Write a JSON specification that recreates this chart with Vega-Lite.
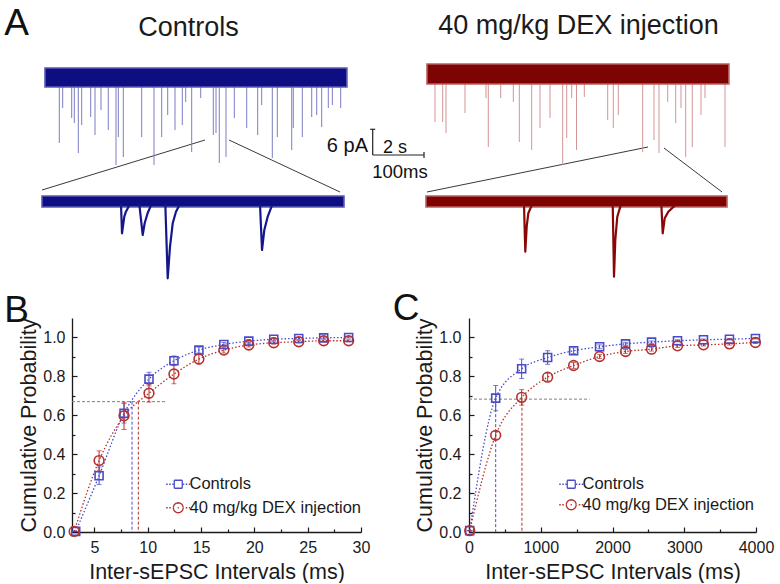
{
  "$schema": "https://vega.github.io/schema/vega-lite/v6.json",
  "padding": {"left": 4, "top": 0, "right": 0, "bottom": 0},
  "background": "white",
  "bounds": "flush",
  "spacing": 0,
  "resolve": {
    "scale": {"color": "independent", "fill": "independent", "stroke": "independent", "shape": "independent", "size": "independent"},
    "legend": {"color": "independent", "fill": "independent", "stroke": "independent", "shape": "independent", "size": "independent"}
  },
  "config": {
    "font": "Liberation Sans",
    "view": {"stroke": null},
    "axis": {
      "grid": false,
      "domainColor": "#1a1a1a", "domainWidth": 1.3,
      "tickColor": "#1a1a1a", "tickWidth": 1.2,
      "labelColor": "#1a1a1a", "titleColor": "#1a1a1a",
      "labelFont": "Liberation Sans", "titleFont": "Liberation Sans",
      "labelFontSize": 16, "titleFontSize": 21.5, "titleFontWeight": "normal",
      "labelFlush": false, "labelOverlap": false
    }
  },
  "datasets": {
    "bands": [
      {"group": "Controls", "t0": 0, "t1": 11.84, "hi": 2.16, "lo": -2.4},
      {"group": "Controls", "t0": -0.118, "t1": 11.725, "hi": -28.56, "lo": -31.2},
      {"group": "DEX", "t0": 14.98, "t1": 26.82, "hi": 3.12, "lo": -1.68},
      {"group": "DEX", "t0": 14.941, "t1": 26.745, "hi": -28.56, "lo": -31.2}
    ],
    "spikes": [
      {"group": "Controls", "t": 0.561, "depth": -15.84},
      {"group": "Controls", "t": 0.694, "depth": -7.44},
      {"group": "Controls", "t": 1.047, "depth": -9.84},
      {"group": "Controls", "t": 1.149, "depth": -11.04},
      {"group": "Controls", "t": 1.306, "depth": -18.24},
      {"group": "Controls", "t": 1.439, "depth": -11.52},
      {"group": "Controls", "t": 1.792, "depth": -9.6},
      {"group": "Controls", "t": 1.961, "depth": -13.92},
      {"group": "Controls", "t": 2.196, "depth": -7.92},
      {"group": "Controls", "t": 2.482, "depth": -12.72},
      {"group": "Controls", "t": 2.784, "depth": -21.12},
      {"group": "Controls", "t": 2.875, "depth": -14.4},
      {"group": "Controls", "t": 3.071, "depth": -19.2},
      {"group": "Controls", "t": 3.792, "depth": -14.4},
      {"group": "Controls", "t": 4.275, "depth": -21.12},
      {"group": "Controls", "t": 4.576, "depth": -14.4},
      {"group": "Controls", "t": 4.812, "depth": -9.12},
      {"group": "Controls", "t": 5.098, "depth": -12.72},
      {"group": "Controls", "t": 5.384, "depth": -11.52},
      {"group": "Controls", "t": 5.518, "depth": -6.0},
      {"group": "Controls", "t": 5.753, "depth": -18.0},
      {"group": "Controls", "t": 6.106, "depth": -5.04},
      {"group": "Controls", "t": 6.6, "depth": -13.92},
      {"group": "Controls", "t": 6.706, "depth": -13.44},
      {"group": "Controls", "t": 6.835, "depth": -20.64},
      {"group": "Controls", "t": 7.098, "depth": -19.2},
      {"group": "Controls", "t": 7.424, "depth": -9.84},
      {"group": "Controls", "t": 7.91, "depth": -12.24},
      {"group": "Controls", "t": 8.341, "depth": -13.92},
      {"group": "Controls", "t": 8.498, "depth": -6.72},
      {"group": "Controls", "t": 8.914, "depth": -19.44},
      {"group": "Controls", "t": 9.11, "depth": -14.4},
      {"group": "Controls", "t": 9.675, "depth": -17.52},
      {"group": "Controls", "t": 9.737, "depth": -12.24},
      {"group": "Controls", "t": 10.09, "depth": -14.4},
      {"group": "Controls", "t": 10.459, "depth": -9.6},
      {"group": "Controls", "t": 10.655, "depth": -9.12},
      {"group": "Controls", "t": 10.851, "depth": -12.0},
      {"group": "Controls", "t": 11.11, "depth": -7.44},
      {"group": "Controls", "t": 11.267, "depth": -6.72},
      {"group": "Controls", "t": 11.596, "depth": -7.44},
      {"group": "DEX", "t": 15.294, "depth": -10.8},
      {"group": "DEX", "t": 15.596, "depth": -10.8},
      {"group": "DEX", "t": 15.725, "depth": -13.44},
      {"group": "DEX", "t": 16.471, "depth": -8.64},
      {"group": "DEX", "t": 17.294, "depth": -5.04},
      {"group": "DEX", "t": 17.384, "depth": -16.8},
      {"group": "DEX", "t": 17.871, "depth": -5.04},
      {"group": "DEX", "t": 18.365, "depth": -6.0},
      {"group": "DEX", "t": 18.6, "depth": -15.6},
      {"group": "DEX", "t": 19.086, "depth": -17.52},
      {"group": "DEX", "t": 19.412, "depth": -12.24},
      {"group": "DEX", "t": 19.804, "depth": -9.84},
      {"group": "DEX", "t": 20.302, "depth": -21.12},
      {"group": "DEX", "t": 20.459, "depth": -14.64},
      {"group": "DEX", "t": 20.655, "depth": -5.04},
      {"group": "DEX", "t": 20.843, "depth": -17.52},
      {"group": "DEX", "t": 21.149, "depth": -4.8},
      {"group": "DEX", "t": 22.067, "depth": -10.32},
      {"group": "DEX", "t": 22.286, "depth": -12.24},
      {"group": "DEX", "t": 22.482, "depth": -9.12},
      {"group": "DEX", "t": 23.439, "depth": -18.0},
      {"group": "DEX", "t": 23.882, "depth": -15.12},
      {"group": "DEX", "t": 24.078, "depth": -18.24},
      {"group": "DEX", "t": 24.42, "depth": -6.0},
      {"group": "DEX", "t": 24.733, "depth": -11.04},
      {"group": "DEX", "t": 24.941, "depth": -7.44},
      {"group": "DEX", "t": 25.125, "depth": -19.2},
      {"group": "DEX", "t": 25.384, "depth": -16.8},
      {"group": "DEX", "t": 25.725, "depth": -9.12},
      {"group": "DEX", "t": 25.882, "depth": -5.04},
      {"group": "DEX", "t": 26.667, "depth": -16.8}
    ],
    "events": [
      {"group": "Controls", "ev": "c1", "t": 2.98, "pA": -30.5},
      {"group": "Controls", "ev": "c1", "t": 3.02, "pA": -37.51},
      {"group": "Controls", "ev": "c1", "t": 3.11, "pA": -33.53},
      {"group": "Controls", "ev": "c1", "t": 3.173, "pA": -32.33},
      {"group": "Controls", "ev": "c1", "t": 3.306, "pA": -30.8},
      {"group": "Controls", "ev": "c2", "t": 3.698, "pA": -30.5},
      {"group": "Controls", "ev": "c2", "t": 3.831, "pA": -37.92},
      {"group": "Controls", "ev": "c2", "t": 3.91, "pA": -35.04},
      {"group": "Controls", "ev": "c2", "t": 4.027, "pA": -32.64},
      {"group": "Controls", "ev": "c2", "t": 4.157, "pA": -30.8},
      {"group": "Controls", "ev": "c3", "t": 4.718, "pA": -30.5},
      {"group": "Controls", "ev": "c3", "t": 4.812, "pA": -48.31},
      {"group": "Controls", "ev": "c3", "t": 4.902, "pA": -40.73},
      {"group": "Controls", "ev": "c3", "t": 5.008, "pA": -35.11},
      {"group": "Controls", "ev": "c3", "t": 5.137, "pA": -32.33},
      {"group": "Controls", "ev": "c3", "t": 5.267, "pA": -30.8},
      {"group": "Controls", "ev": "c4", "t": 8.431, "pA": -30.5},
      {"group": "Controls", "ev": "c4", "t": 8.51, "pA": -41.52},
      {"group": "Controls", "ev": "c4", "t": 8.6, "pA": -36.72},
      {"group": "Controls", "ev": "c4", "t": 8.733, "pA": -33.53},
      {"group": "Controls", "ev": "c4", "t": 8.902, "pA": -30.8},
      {"group": "DEX", "ev": "d1", "t": 18.784, "pA": -30.5},
      {"group": "DEX", "ev": "d1", "t": 18.835, "pA": -41.93},
      {"group": "DEX", "ev": "d1", "t": 18.89, "pA": -35.93},
      {"group": "DEX", "ev": "d1", "t": 18.953, "pA": -32.71},
      {"group": "DEX", "ev": "d1", "t": 19.086, "pA": -30.8},
      {"group": "DEX", "ev": "d2", "t": 22.263, "pA": -30.5},
      {"group": "DEX", "ev": "d2", "t": 22.314, "pA": -47.93},
      {"group": "DEX", "ev": "d2", "t": 22.365, "pA": -39.12},
      {"group": "DEX", "ev": "d2", "t": 22.443, "pA": -33.53},
      {"group": "DEX", "ev": "d2", "t": 22.576, "pA": -30.8},
      {"group": "DEX", "ev": "d3", "t": 24.169, "pA": -30.5},
      {"group": "DEX", "ev": "d3", "t": 24.224, "pA": -37.51},
      {"group": "DEX", "ev": "d3", "t": 24.302, "pA": -33.91},
      {"group": "DEX", "ev": "d3", "t": 24.443, "pA": -32.33},
      {"group": "DEX", "ev": "d3", "t": 24.706, "pA": -30.8}
    ],
    "connectors": [
      {"t0": 6.275, "y0": -15.12, "t1": -0.118, "y1": -27.12},
      {"t0": 7.216, "y0": -15.12, "t1": 11.569, "y1": -27.6},
      {"t0": 23.647, "y0": -16.8, "t1": 14.98, "y1": -27.6},
      {"t0": 24.275, "y0": -17.04, "t1": 26.549, "y1": -27.6}
    ],
    "scalebar": [
      {"t0": 12.851, "t1": 12.851, "y0": -12.55, "y1": -18.72},
      {"t0": 12.851, "t1": 14.863, "y0": -18.72, "y1": -18.72},
      {"t0": 12.75, "t1": 12.95, "y0": -12.55, "y1": -12.55},
      {"t0": 14.863, "t1": 14.863, "y0": -18.0, "y1": -19.44}
    ],
    "letters": [
      {"label": "A", "t": -1.6, "pA": 10.1},
      {"label": "B", "t": -1.6, "pA": -58.8},
      {"label": "C", "t": 13.64, "pA": -58.32}
    ],
    "titles": [
      {"label": "Controls", "t": 5.627, "pA": 9.84},
      {"label": "40 mg/kg DEX injection", "t": 20.922, "pA": 10.44}
    ],
    "sbAmp": [{"label": "6 pA", "t": 12.667, "pA": -17.93}],
    "sbTime": [{"label": "2 s", "t": 13.255, "pA": -18.3}],
    "sbZoom": [{"label": "100ms", "t": 13.922, "pA": -24.3}],
    "cumB": [
      {"group": "Controls", "interval": 3.25, "prob": 0.003, "err": 0},
      {"group": "Controls", "interval": 5.44, "prob": 0.289, "err": 0.045},
      {"group": "Controls", "interval": 7.78, "prob": 0.61, "err": 0.05},
      {"group": "Controls", "interval": 10.12, "prob": 0.786, "err": 0.035},
      {"group": "Controls", "interval": 12.46, "prob": 0.88, "err": 0.025},
      {"group": "Controls", "interval": 14.8, "prob": 0.935, "err": 0.015},
      {"group": "Controls", "interval": 17.14, "prob": 0.964, "err": 0.01},
      {"group": "Controls", "interval": 19.48, "prob": 0.981, "err": 0.008},
      {"group": "Controls", "interval": 21.82, "prob": 0.991, "err": 0.006},
      {"group": "Controls", "interval": 24.16, "prob": 0.995, "err": 0.005},
      {"group": "Controls", "interval": 26.5, "prob": 0.998, "err": 0.004},
      {"group": "Controls", "interval": 28.84, "prob": 1.0, "err": 0.003},
      {"group": "40 mg/kg DEX injection", "interval": 3.1, "prob": 0.003, "err": 0},
      {"group": "40 mg/kg DEX injection", "interval": 5.44, "prob": 0.367, "err": 0.05},
      {"group": "40 mg/kg DEX injection", "interval": 7.78, "prob": 0.597, "err": 0.07},
      {"group": "40 mg/kg DEX injection", "interval": 10.12, "prob": 0.713, "err": 0.045},
      {"group": "40 mg/kg DEX injection", "interval": 12.46, "prob": 0.812, "err": 0.05},
      {"group": "40 mg/kg DEX injection", "interval": 14.8, "prob": 0.889, "err": 0.025},
      {"group": "40 mg/kg DEX injection", "interval": 17.14, "prob": 0.935, "err": 0.015},
      {"group": "40 mg/kg DEX injection", "interval": 19.48, "prob": 0.961, "err": 0.01},
      {"group": "40 mg/kg DEX injection", "interval": 21.82, "prob": 0.973, "err": 0.008},
      {"group": "40 mg/kg DEX injection", "interval": 24.16, "prob": 0.978, "err": 0.006},
      {"group": "40 mg/kg DEX injection", "interval": 26.5, "prob": 0.983, "err": 0.005},
      {"group": "40 mg/kg DEX injection", "interval": 28.84, "prob": 0.983, "err": 0.005}
    ],
    "refBh": [{"interval": 2.9, "interval_end": 11.8, "prob": 0.67}],
    "refBv": [
      {"group": "Controls", "interval": 8.53, "prob": 0.67},
      {"group": "40 mg/kg DEX injection", "interval": 9.12, "prob": 0.67}
    ],
    "cumC": [
      {"group": "Controls", "interval": 10, "prob": 0.007, "err": 0},
      {"group": "Controls", "interval": 372, "prob": 0.688, "err": 0.065},
      {"group": "Controls", "interval": 734, "prob": 0.839, "err": 0.05},
      {"group": "Controls", "interval": 1096, "prob": 0.897, "err": 0.035},
      {"group": "Controls", "interval": 1458, "prob": 0.932, "err": 0.015},
      {"group": "Controls", "interval": 1820, "prob": 0.952, "err": 0.01},
      {"group": "Controls", "interval": 2182, "prob": 0.967, "err": 0.008},
      {"group": "Controls", "interval": 2544, "prob": 0.976, "err": 0.006},
      {"group": "Controls", "interval": 2906, "prob": 0.983, "err": 0.005},
      {"group": "Controls", "interval": 3268, "prob": 0.988, "err": 0.004},
      {"group": "Controls", "interval": 3630, "prob": 0.991, "err": 0.004},
      {"group": "Controls", "interval": 3992, "prob": 0.995, "err": 0.003},
      {"group": "40 mg/kg DEX injection", "interval": 10, "prob": 0.007, "err": 0},
      {"group": "40 mg/kg DEX injection", "interval": 372, "prob": 0.497, "err": 0.02},
      {"group": "40 mg/kg DEX injection", "interval": 734, "prob": 0.692, "err": 0.04},
      {"group": "40 mg/kg DEX injection", "interval": 1096, "prob": 0.796, "err": 0.02},
      {"group": "40 mg/kg DEX injection", "interval": 1458, "prob": 0.856, "err": 0.015},
      {"group": "40 mg/kg DEX injection", "interval": 1820, "prob": 0.902, "err": 0.01},
      {"group": "40 mg/kg DEX injection", "interval": 2182, "prob": 0.928, "err": 0.01},
      {"group": "40 mg/kg DEX injection", "interval": 2544, "prob": 0.94, "err": 0.01},
      {"group": "40 mg/kg DEX injection", "interval": 2906, "prob": 0.957, "err": 0.008},
      {"group": "40 mg/kg DEX injection", "interval": 3268, "prob": 0.962, "err": 0.006},
      {"group": "40 mg/kg DEX injection", "interval": 3630, "prob": 0.967, "err": 0.006},
      {"group": "40 mg/kg DEX injection", "interval": 3992, "prob": 0.974, "err": 0.005}
    ],
    "refCh": [{"interval": 0, "interval_end": 1680, "prob": 0.683}],
    "refCv": [
      {"group": "Controls", "interval": 372, "prob": 0.683},
      {"group": "40 mg/kg DEX injection", "interval": 738, "prob": 0.69}
    ]
  },
  "vconcat": [
    {
      "width": 708,
      "height": 318,
      "resolve": {"scale": {"color": "independent", "fill": "independent", "stroke": "independent"}},
      "layer": [
        {
          "data": {"name": "connectors"},
          "mark": {"type": "rule", "color": "#3a3a3a", "strokeWidth": 1},
          "encoding": {
            "x": {"field": "t0", "type": "quantitative", "scale": {"domain": [1.0588, 28.8235], "nice": false, "zero": false}, "axis": null},
            "x2": {"field": "t1"},
            "y": {"field": "y0", "type": "quantitative", "scale": {"domain": [-57.84, 18.48], "nice": false, "zero": false}, "axis": null},
            "y2": {"field": "y1"}
          }
        },
        {
          "data": {"name": "spikes"},
          "mark": {"type": "rule", "strokeWidth": 1},
          "encoding": {
            "x": {"field": "t", "type": "quantitative", "scale": {"domain": [1.0588, 28.8235], "nice": false, "zero": false}, "axis": null},
            "y": {"field": "depth", "type": "quantitative", "scale": {"domain": [-57.84, 18.48], "nice": false, "zero": false}, "axis": null},
            "y2": {"datum": 0},
            "stroke": {"field": "group", "type": "nominal", "scale": {"domain": ["Controls", "DEX"], "range": ["#7c7cc4", "#d39494"]}, "legend": null}
          }
        },
        {
          "data": {"name": "bands"},
          "mark": {"type": "rect", "strokeWidth": 1.6},
          "encoding": {
            "x": {"field": "t0", "type": "quantitative", "scale": {"domain": [1.0588, 28.8235], "nice": false, "zero": false}, "axis": null},
            "x2": {"field": "t1"},
            "y": {"field": "hi", "type": "quantitative", "scale": {"domain": [-57.84, 18.48], "nice": false, "zero": false}, "axis": null},
            "y2": {"field": "lo"},
            "fill": {"field": "group", "type": "nominal", "scale": {"domain": ["Controls", "DEX"], "range": ["#0e0e82", "#7e0303"]}, "legend": null},
            "stroke": {"field": "group", "type": "nominal", "scale": {"domain": ["Controls", "DEX"], "range": ["#5a5ab4", "#b86060"]}, "legend": null}
          }
        },
        {
          "data": {"name": "events"},
          "mark": {"type": "line", "strokeWidth": 2.2, "strokeJoin": "round"},
          "encoding": {
            "x": {"field": "t", "type": "quantitative", "scale": {"domain": [1.0588, 28.8235], "nice": false, "zero": false}, "axis": null},
            "y": {"field": "pA", "type": "quantitative", "scale": {"domain": [-57.84, 18.48], "nice": false, "zero": false}, "axis": null},
            "detail": {"field": "ev"},
            "order": {"field": "t", "type": "quantitative"},
            "color": {"field": "group", "type": "nominal", "scale": {"domain": ["Controls", "DEX"], "range": ["#16168c", "#880808"]}, "legend": null}
          }
        },
        {
          "data": {"name": "scalebar"},
          "mark": {"type": "rule", "color": "#222222", "strokeWidth": 1.2},
          "encoding": {
            "x": {"field": "t0", "type": "quantitative", "scale": {"domain": [1.0588, 28.8235], "nice": false, "zero": false}, "axis": null},
            "x2": {"field": "t1"},
            "y": {"field": "y0", "type": "quantitative", "scale": {"domain": [-57.84, 18.48], "nice": false, "zero": false}, "axis": null},
            "y2": {"field": "y1"}
          }
        },
        {
          "data": {"name": "letters"},
          "mark": {"type": "text", "fontSize": 37, "align": "left", "baseline": "alphabetic", "color": "#111111"},
          "encoding": {
            "x": {"field": "t", "type": "quantitative", "scale": {"domain": [1.0588, 28.8235], "nice": false, "zero": false}, "axis": null},
            "y": {"field": "pA", "type": "quantitative", "scale": {"domain": [-57.84, 18.48], "nice": false, "zero": false}, "axis": null},
            "text": {"field": "label"}
          }
        },
        {
          "data": {"name": "titles"},
          "mark": {"type": "text", "fontSize": 27, "align": "center", "baseline": "alphabetic", "color": "#1a1a1a"},
          "encoding": {
            "x": {"field": "t", "type": "quantitative", "scale": {"domain": [1.0588, 28.8235], "nice": false, "zero": false}, "axis": null},
            "y": {"field": "pA", "type": "quantitative", "scale": {"domain": [-57.84, 18.48], "nice": false, "zero": false}, "axis": null},
            "text": {"field": "label"}
          }
        },
        {
          "data": {"name": "sbAmp"},
          "mark": {"type": "text", "fontSize": 20, "align": "right", "baseline": "alphabetic", "color": "#111111"},
          "encoding": {
            "x": {"field": "t", "type": "quantitative", "scale": {"domain": [1.0588, 28.8235], "nice": false, "zero": false}, "axis": null},
            "y": {"field": "pA", "type": "quantitative", "scale": {"domain": [-57.84, 18.48], "nice": false, "zero": false}, "axis": null},
            "text": {"field": "label"}
          }
        },
        {
          "data": {"name": "sbTime"},
          "mark": {"type": "text", "fontSize": 18, "align": "left", "baseline": "alphabetic", "color": "#111111"},
          "encoding": {
            "x": {"field": "t", "type": "quantitative", "scale": {"domain": [1.0588, 28.8235], "nice": false, "zero": false}, "axis": null},
            "y": {"field": "pA", "type": "quantitative", "scale": {"domain": [-57.84, 18.48], "nice": false, "zero": false}, "axis": null},
            "text": {"field": "label"}
          }
        },
        {
          "data": {"name": "sbZoom"},
          "mark": {"type": "text", "fontSize": 18.5, "align": "center", "baseline": "alphabetic", "color": "#111111"},
          "encoding": {
            "x": {"field": "t", "type": "quantitative", "scale": {"domain": [1.0588, 28.8235], "nice": false, "zero": false}, "axis": null},
            "y": {"field": "pA", "type": "quantitative", "scale": {"domain": [-57.84, 18.48], "nice": false, "zero": false}, "axis": null},
            "text": {"field": "label"}
          }
        }
      ]
    },
    {
      "bounds": "flush",
      "spacing": 108,
      "resolve": {
        "scale": {"color": "independent", "stroke": "independent", "shape": "independent"},
        "legend": {"color": "independent", "stroke": "independent", "shape": "independent"}
      },
      "hconcat": [
        {
          "width": 289,
          "height": 214,
          "encoding": {
            "x": {
              "field": "interval", "type": "quantitative",
              "scale": {"domain": [2.9, 30], "nice": false, "zero": false},
              "axis": {
                "title": "Inter-sEPSC Intervals (ms)",
                "values": [5, 7.5, 10, 12.5, 15, 17.5, 20, 22.5, 25, 27.5, 30],
                "labelExpr": "datum.value % 5 === 0 ? datum.label : ''",
                "tickSize": {"condition": {"test": "datum.value % 5 === 0", "value": -5}, "value": -3},
                "labelPadding": 12, "titlePadding": 4
              }
            },
            "y": {
              "field": "prob", "type": "quantitative",
              "scale": {"domain": [0, 1.1], "nice": false},
              "axis": {
                "title": "Cumulative Probability",
                "values": [0, 0.1, 0.2, 0.3, 0.4, 0.5, 0.6, 0.7, 0.8, 0.9, 1.0],
                "labelExpr": "abs(datum.value * 5 - round(datum.value * 5)) < 0.001 ? format(datum.value, '.1f') : ''",
                "tickSize": {"condition": {"test": "abs(datum.value * 5 - round(datum.value * 5)) < 0.001", "value": -5}, "value": -3},
                "labelPadding": 12, "titlePadding": 2
              }
            }
          },
          "layer": [
            {
              "data": {"name": "cumB"},
              "transform": [{"filter": "false"}],
              "mark": {"type": "point", "filled": false, "strokeWidth": 1.3},
              "encoding": {
                "shape": {"field": "group", "type": "nominal",
                  "scale": {"domain": ["Controls", "40 mg/kg DEX injection"], "range": ["M-2.4,0H-2.1M-1.8,0H-1.5M-1.2,0H-0.95M0.95,0H1.2M1.5,0H1.8M2.1,0H2.4M-0.8,-0.8H0.8M0.8,-0.8V0.8M0.8,0.8H-0.8M-0.8,0.8V-0.8", "M-2.4,0H-2.1M-1.8,0H-1.5M1.5,0H1.8M2.1,0H2.4M-0.12,0H0.12M1,0L0.924,0.383M0.924,0.383L0.707,0.707M0.707,0.707L0.383,0.924M0.383,0.924L0,1M0,1L-0.383,0.924M-0.383,0.924L-0.707,0.707M-0.707,0.707L-0.924,0.383M-0.924,0.383L-1,0M-1,0L-0.924,-0.383M-0.924,-0.383L-0.707,-0.707M-0.707,-0.707L-0.383,-0.924M-0.383,-0.924L0,-1M0,-1L0.383,-0.924M0.383,-0.924L0.707,-0.707M0.707,-0.707L0.924,-0.383M0.924,-0.383L1,0"]},
                  "legend": {"orient": "none", "legendX": 98, "legendY": 158, "title": null, "padding": 0, "labelFontSize": 16.5, "labelLimit": 400, "labelColor": "#1a1a1a", "symbolSize": 100, "symbolStrokeWidth": 1.3, "labelOffset": 3, "rowPadding": 6.5, "symbolFillColor": "transparent", "symbolOpacity": 1}},
                "stroke": {"field": "group", "type": "nominal", "scale": {"domain": ["Controls", "40 mg/kg DEX injection"], "range": ["#4b4bc8", "#b3302c"]},
                  "legend": {"orient": "none", "legendX": 98, "legendY": 158, "title": null, "padding": 0, "labelFontSize": 16.5, "labelLimit": 400, "labelColor": "#1a1a1a", "symbolSize": 100, "symbolStrokeWidth": 1.3, "labelOffset": 3, "rowPadding": 6.5, "symbolFillColor": "transparent", "symbolOpacity": 1}}
              }
            },
            {
              "data": {"name": "refBh"},
              "mark": {"type": "rule", "color": "#808080", "strokeWidth": 1, "strokeDash": [3, 2]},
              "encoding": {"x2": {"field": "interval_end"}}
            },
            {
              "data": {"name": "refBv"},
              "mark": {"type": "rule", "strokeWidth": 1, "strokeDash": [3, 2]},
              "encoding": {
                "y2": {"datum": 0},
                "color": {"field": "group", "type": "nominal", "scale": {"domain": ["Controls", "40 mg/kg DEX injection"], "range": ["#4b4bc8", "#b3302c"]}, "legend": null}
              }
            },
            {
              "data": {"name": "cumB"},
              "mark": {"type": "errorbar", "ticks": true, "thickness": 1},
              "encoding": {
                "yError": {"field": "err"},
                "color": {"field": "group", "type": "nominal", "legend": null}
              }
            },
            {
              "data": {"name": "cumB"},
              "mark": {"type": "line", "interpolate": "monotone", "strokeWidth": 1.3, "strokeDash": [1.5, 2]},
              "encoding": {"color": {"field": "group", "type": "nominal", "legend": null}}
            },
            {
              "data": {"name": "cumB"},
              "transform": [{"filter": "datum.group === 'Controls'"}],
              "mark": {"type": "point", "shape": "square", "size": 64, "filled": false, "strokeWidth": 1.6, "opacity": 1},
              "encoding": {"stroke": {"field": "group", "type": "nominal"}}
            },
            {
              "data": {"name": "cumB"},
              "transform": [{"filter": "datum.group !== 'Controls'"}],
              "mark": {"type": "point", "shape": "circle", "size": 95, "filled": false, "strokeWidth": 1.6, "opacity": 1},
              "encoding": {"stroke": {"field": "group", "type": "nominal"}}
            }
          ]
        },
        {
          "width": 287,
          "height": 214,
          "encoding": {
            "x": {
              "field": "interval", "type": "quantitative",
              "scale": {"domain": [0, 4000], "nice": false, "zero": false},
              "axis": {
                "title": "Inter-sEPSC Intervals (ms)",
                "values": [0, 500, 1000, 1500, 2000, 2500, 3000, 3500, 4000],
                "format": "d",
                "labelExpr": "datum.value % 1000 === 0 ? datum.label : ''",
                "tickSize": {"condition": {"test": "datum.value % 1000 === 0", "value": -5}, "value": -3},
                "labelPadding": 12, "titlePadding": 4
              }
            },
            "y": {
              "field": "prob", "type": "quantitative",
              "scale": {"domain": [0, 1.1], "nice": false},
              "axis": {
                "title": "Cumulative Probability",
                "values": [0, 0.1, 0.2, 0.3, 0.4, 0.5, 0.6, 0.7, 0.8, 0.9, 1.0],
                "labelExpr": "abs(datum.value * 5 - round(datum.value * 5)) < 0.001 ? format(datum.value, '.1f') : ''",
                "tickSize": {"condition": {"test": "abs(datum.value * 5 - round(datum.value * 5)) < 0.001", "value": -5}, "value": -3},
                "labelPadding": 13, "titlePadding": 2
              }
            }
          },
          "layer": [
            {
              "data": {"name": "cumC"},
              "transform": [{"filter": "false"}],
              "mark": {"type": "point", "filled": false, "strokeWidth": 1.3},
              "encoding": {
                "shape": {"field": "group", "type": "nominal",
                  "scale": {"domain": ["Controls", "40 mg/kg DEX injection"], "range": ["M-2.4,0H-2.1M-1.8,0H-1.5M-1.2,0H-0.95M0.95,0H1.2M1.5,0H1.8M2.1,0H2.4M-0.8,-0.8H0.8M0.8,-0.8V0.8M0.8,0.8H-0.8M-0.8,0.8V-0.8", "M-2.4,0H-2.1M-1.8,0H-1.5M1.5,0H1.8M2.1,0H2.4M-0.12,0H0.12M1,0L0.924,0.383M0.924,0.383L0.707,0.707M0.707,0.707L0.383,0.924M0.383,0.924L0,1M0,1L-0.383,0.924M-0.383,0.924L-0.707,0.707M-0.707,0.707L-0.924,0.383M-0.924,0.383L-1,0M-1,0L-0.924,-0.383M-0.924,-0.383L-0.707,-0.707M-0.707,-0.707L-0.383,-0.924M-0.383,-0.924L0,-1M0,-1L0.383,-0.924M0.383,-0.924L0.707,-0.707M0.707,-0.707L0.924,-0.383M0.924,-0.383L1,0"]},
                  "legend": {"orient": "none", "legendX": 94, "legendY": 158, "title": null, "padding": 0, "labelFontSize": 16.5, "labelLimit": 400, "labelColor": "#1a1a1a", "symbolSize": 100, "symbolStrokeWidth": 1.3, "labelOffset": 3, "rowPadding": 3.5, "symbolFillColor": "transparent", "symbolOpacity": 1}},
                "stroke": {"field": "group", "type": "nominal", "scale": {"domain": ["Controls", "40 mg/kg DEX injection"], "range": ["#4b4bc8", "#b3302c"]},
                  "legend": {"orient": "none", "legendX": 94, "legendY": 158, "title": null, "padding": 0, "labelFontSize": 16.5, "labelLimit": 400, "labelColor": "#1a1a1a", "symbolSize": 100, "symbolStrokeWidth": 1.3, "labelOffset": 3, "rowPadding": 3.5, "symbolFillColor": "transparent", "symbolOpacity": 1}}
              }
            },
            {
              "data": {"name": "refCh"},
              "mark": {"type": "rule", "color": "#808080", "strokeWidth": 1, "strokeDash": [3, 2]},
              "encoding": {"x2": {"field": "interval_end"}}
            },
            {
              "data": {"name": "refCv"},
              "mark": {"type": "rule", "strokeWidth": 1, "strokeDash": [3, 2]},
              "encoding": {
                "y2": {"datum": 0},
                "color": {"field": "group", "type": "nominal", "scale": {"domain": ["Controls", "40 mg/kg DEX injection"], "range": ["#4b4bc8", "#b3302c"]}, "legend": null}
              }
            },
            {
              "data": {"name": "cumC"},
              "mark": {"type": "errorbar", "ticks": true, "thickness": 1},
              "encoding": {
                "yError": {"field": "err"},
                "color": {"field": "group", "type": "nominal", "legend": null}
              }
            },
            {
              "data": {"name": "cumC"},
              "mark": {"type": "line", "interpolate": "monotone", "strokeWidth": 1.3, "strokeDash": [1.5, 2]},
              "encoding": {"color": {"field": "group", "type": "nominal", "legend": null}}
            },
            {
              "data": {"name": "cumC"},
              "transform": [{"filter": "datum.group === 'Controls'"}],
              "mark": {"type": "point", "shape": "square", "size": 64, "filled": false, "strokeWidth": 1.6, "opacity": 1},
              "encoding": {"stroke": {"field": "group", "type": "nominal"}}
            },
            {
              "data": {"name": "cumC"},
              "transform": [{"filter": "datum.group !== 'Controls'"}],
              "mark": {"type": "point", "shape": "circle", "size": 95, "filled": false, "strokeWidth": 1.6, "opacity": 1},
              "encoding": {"stroke": {"field": "group", "type": "nominal"}}
            }
          ]
        }
      ]
    }
  ]
}
